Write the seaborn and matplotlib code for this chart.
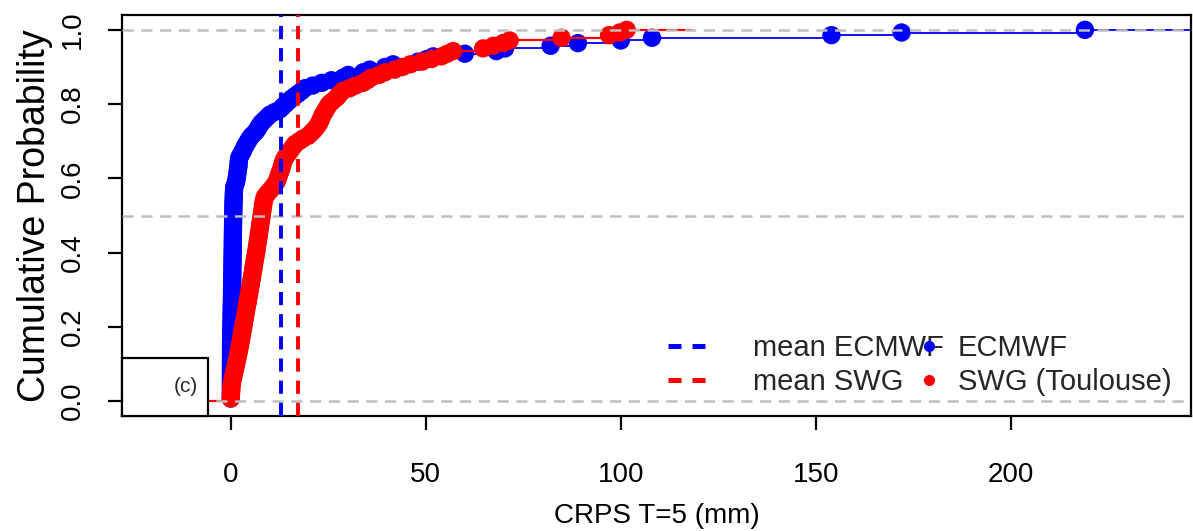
import numpy as np
import pandas as pd
import matplotlib
matplotlib.use("Agg")
import matplotlib.pyplot as plt
import seaborn as sns
from matplotlib.lines import Line2D
from matplotlib.patches import Rectangle

# ---------------- data ----------------
ecmwf_crps = [
    0.0, 0.005, 0.01, 0.01, 0.015, 0.02, 0.02, 0.025, 0.03, 0.03, 0.035, 0.04,
    0.04, 0.045, 0.05, 0.05, 0.055, 0.06,
    0.02, 0.03, 0.05, 0.06, 0.08, 0.1, 0.1, 0.12, 0.13, 0.15, 0.16, 0.18,
    0.2, 0.2, 0.21, 0.22, 0.24, 0.25, 0.26, 0.28,
    0.3, 0.3, 0.31, 0.32, 0.33, 0.35, 0.36, 0.37, 0.38,
    0.4, 0.4, 0.41, 0.42, 0.43, 0.44, 0.45, 0.46, 0.47, 0.48,
    0.5, 0.5, 0.51, 0.52, 0.53, 0.54, 0.55, 0.56, 0.57, 0.58,
    0.6, 0.6, 0.62, 0.63, 0.65, 0.66, 0.68, 0.7, 0.72, 0.75, 0.78, 0.8, 0.85, 0.9,
    1.2, 1.4, 1.5, 1.6, 1.7, 1.8, 1.9, 2.0, 2.0, 2.1,
    2.2, 2.6, 3.0, 3.3, 3.6, 4.0, 4.4, 4.8, 5.3, 6.0, 6.6,
    7.0, 7.4, 7.9, 8.6, 9.3, 10.0, 11.2, 12.6, 13.3, 14.0, 14.7,
    15.5, 16.4, 17.3, 18.2, 19.0, 21.0, 23.3, 25.8, 28.8,
    30.1, 33.9, 35.6, 39.5, 41.6, 48.0, 50.2, 51.9, 60.0, 68.1, 70.3,
    82.0, 89.0, 100.0, 108.0, 154.0, 172.0, 219.0,
]

swg_crps = [
    0.0, 0.02, 0.05, 0.1, 0.15, 0.22, 0.3,
    0.45, 0.6, 0.75, 0.9, 1.05, 1.2, 1.35, 1.5, 1.65, 1.8, 1.95, 2.1,
    2.2, 2.35, 2.45, 2.6, 2.7, 2.8, 2.95, 3.05, 3.2, 3.3,
    3.4, 3.55, 3.65, 3.8, 3.9, 4.0, 4.15, 4.3, 4.4,
    4.5, 4.65, 4.75, 4.85, 5.0, 5.1, 5.2, 5.35, 5.45, 5.55,
    5.7, 5.8, 5.9, 6.0, 6.1, 6.25, 6.35, 6.5, 6.6,
    6.7, 6.8, 6.9, 7.0, 7.1, 7.2, 7.3, 7.4, 7.5, 7.6,
    7.7, 7.8, 7.9, 8.0, 8.1, 8.2, 8.3, 8.4, 8.55, 8.7,
    9.2, 9.8, 10.4, 10.9, 11.4, 11.8, 12.1,
    12.3, 12.5, 12.8, 13.0, 13.2, 13.4, 13.6,
    14.0, 14.5, 15.0, 15.5, 16.0, 16.5, 17.5, 18.5, 19.8,
    20.5, 21.2, 21.8, 22.3, 22.7, 23.0, 23.3,
    23.6, 24.0, 24.4, 24.8, 25.2, 26.0, 26.8, 27.5, 28.0, 28.7,
    30.5, 32.0, 33.9, 35.0, 36.0, 38.0, 39.5, 42.0, 44.0, 46.0, 49.0,
    51.5, 54.0, 55.5, 57.0, 64.7, 67.3, 69.8, 71.5, 84.8, 97.0, 99.7, 101.5,
]

mean_ecmwf = 12.8
mean_swg = 17.1

x_ticks = [0, 50, 100, 150, 200]
y_ticks = [0.0, 0.2, 0.4, 0.6, 0.8, 1.0]
ref_levels = [0.0, 0.5, 1.0]

mean_labels = ["mean ECMWF", "mean SWG"]
series_labels = ["ECMWF", "SWG (Toulouse)"]
panel_tag = "(c)"
x_label = "CRPS T=5 (mm)"
y_label = "Cumulative Probability"

# ---------------- style ----------------
sns.set_theme(style="ticks")
plt.rcParams['font.family'] = ['Liberation Sans', 'DejaVu Sans']

BLUE = "#0000FF"
RED = "#FF0000"
GREY = "#BEBEBE"

W, H = 1193, 531
fig = plt.figure(figsize=(W / 100, H / 100), dpi=100)
ax_l, ax_r, ax_t, ax_b = 122, 1191, 15, 416
ax = fig.add_axes([ax_l / W, 1 - ax_b / H, (ax_r - ax_l) / W, (ax_b - ax_t) / H])

XLIM = (-27.9, 246.2)
YLIM = (-0.04, 1.04)


def ecdf_frame(vals):
    x = np.sort(np.asarray(vals, float))
    n = len(x)
    y = np.arange(1, n + 1) / n
    return pd.DataFrame({"x": x, "y": y})


def step_frame(df, left, right):
    return pd.DataFrame({"x": [left] + list(df["x"]) + [right],
                         "y": [0.0] + list(df["y"]) + [1.0]})


blue_df = ecdf_frame(ecmwf_crps)
red_df = ecdf_frame(swg_crps)

# blue ECDF
sns.lineplot(data=step_frame(blue_df, XLIM[0], XLIM[1]), x="x", y="y",
             drawstyle="steps-post", estimator=None, sort=False,
             color=BLUE, lw=1.3, ax=ax, zorder=2)
sns.scatterplot(data=blue_df, x="x", y="y", color=BLUE, s=175,
                edgecolor="none", linewidth=0, ax=ax, zorder=3)
# red ECDF
sns.lineplot(data=step_frame(red_df, -8.0, 118.0), x="x", y="y",
             drawstyle="steps-post", estimator=None, sort=False,
             color=RED, lw=1.6, ax=ax, zorder=4)
sns.scatterplot(data=red_df, x="x", y="y", color=RED, s=175,
                edgecolor="none", linewidth=0, ax=ax, zorder=5)

# reference lines
for lv in ref_levels:
    ax.axhline(lv, color=GREY, lw=1.8, dashes=(4.5, 3.0), zorder=6)
ax.axvline(mean_ecmwf, color=BLUE, lw=2.8, dashes=(3.4, 2.3), zorder=7)
ax.axvline(mean_swg, color=RED, lw=2.8, dashes=(3.4, 2.3), zorder=7)

ax.set_xlim(*XLIM)
ax.set_ylim(*YLIM)
ax.set_xticks(x_ticks)
ax.set_yticks(y_ticks)
ax.set_xticklabels([str(t) for t in x_ticks])
ax.set_yticklabels([f"{t:.1f}" for t in y_ticks], rotation=90, va="center")

for sp in ax.spines.values():
    sp.set_visible(True)
    sp.set_color("black")
    sp.set_linewidth(1.6)
ax.tick_params(axis="both", direction="out", length=10, width=1.6,
               color="black", labelsize=20, labelcolor="black")
ax.tick_params(axis="x", pad=23)
ax.tick_params(axis="y", pad=16)

ax.set_xlabel(x_label, fontsize=20, labelpad=11, color="black")
ax.set_ylabel(y_label, fontsize=27, labelpad=5, color="black")

# panel tag box
ax.add_patch(Rectangle((0, 0), (208 - ax_l) / (ax_r - ax_l), (ax_b - 358) / (ax_b - ax_t),
                       transform=ax.transAxes, facecolor="white", edgecolor="black",
                       lw=1.6, zorder=8, clip_on=False))
ax.text((198 - ax_l) / (ax_r - ax_l), (ax_b - 387) / (ax_b - ax_t), panel_tag,
        transform=ax.transAxes, ha="right", va="center", fontsize=15, zorder=9)

# legends (two overlaid legends like the original)
fs = 21
h1 = [Line2D([], [], color=BLUE, lw=3.6, dashes=(2.6, 2.2)),
      Line2D([], [], color=RED, lw=3.6, dashes=(2.6, 2.2))]
leg1 = ax.legend(h1, mean_labels, loc="upper left", frameon=False,
                 bbox_to_anchor=(668 / W, 1 - 334 / H), bbox_transform=fig.transFigure,
                 borderpad=0, borderaxespad=0, handlelength=1.6, handletextpad=1.3,
                 labelspacing=0.22, fontsize=fs)
ax.add_artist(leg1)
h2 = [Line2D([], [], color=BLUE, lw=0, marker="o", markersize=7),
      Line2D([], [], color=RED, lw=0, marker="o", markersize=7)]
leg2 = ax.legend(h2, series_labels, loc="upper left", frameon=False,
                 bbox_to_anchor=(917 / W, 1 - 334 / H), bbox_transform=fig.transFigure,
                 borderpad=0, borderaxespad=0, handlelength=0.8, handletextpad=0.6,
                 labelspacing=0.22, fontsize=fs)

fig.savefig("out.png", dpi=100)
